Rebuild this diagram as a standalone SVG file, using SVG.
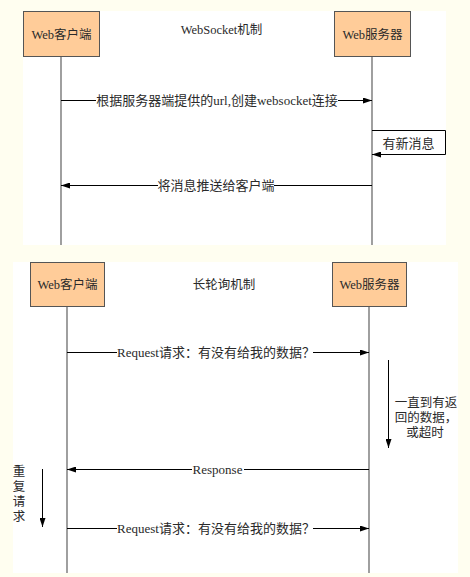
<svg xmlns="http://www.w3.org/2000/svg" width="470" height="577" viewBox="0 0 470 577">
<defs>
<marker id="ah" markerWidth="9" markerHeight="6" refX="9" refY="3" orient="auto" markerUnits="userSpaceOnUse">
<path d="M0,0 L9,3 L0,6 z" fill="#000"/>
</marker>
<style>
.bg{fill:#FFFEF0}
.panel{fill:#fff}
.box{fill:#FFCC99;stroke:#555;stroke-width:1}
.life{stroke:#888;stroke-width:1.6;fill:none}
.msg{stroke:#000;stroke-width:1;fill:none}
.t{font-family:"Liberation Serif","Noto Sans CJK SC",serif;font-size:12.5px;fill:#2a2a2a;text-anchor:middle}
.lb{fill:#fff}
</style>
</defs>
<rect class="bg" x="0" y="0" width="470" height="577"/>
<rect class="panel" x="23" y="11" width="423" height="234"/>
<rect class="panel" x="13" y="262" width="445" height="311"/>

<g id="lifelines">
<line class="life" x1="61" y1="57" x2="61" y2="245"/>
<line class="life" x1="372" y1="57" x2="372" y2="245"/>
<line class="life" x1="67" y1="307" x2="67" y2="573"/>
<line class="life" x1="369" y1="307" x2="369" y2="573"/>
</g>

<text class="t" x="221.5" y="33.5">WebSocket机制</text>
<text class="t" x="224" y="288.5">长轮询机制</text>

<g id="client1">
<rect class="box" x="23.5" y="11.5" width="76" height="45"/>
<text class="t" x="61.5" y="38.5">Web客户端</text>
</g>
<g id="server1">
<rect class="box" x="334.5" y="11.5" width="76" height="45"/>
<text class="t" x="372.5" y="38.5">Web服务器</text>
</g>
<g id="client2">
<rect class="box" x="30.5" y="262.5" width="74" height="44"/>
<text class="t" x="67.5" y="289">Web客户端</text>
</g>
<g id="server2">
<rect class="box" x="332.5" y="262.5" width="74" height="44"/>
<text class="t" x="369.5" y="289">Web服务器</text>
</g>

<g id="connectors">
<line class="msg" x1="61" y1="100.5" x2="372" y2="100.5" marker-end="url(#ah)"/>
<rect class="lb" x="96" y="93" width="242" height="15"/>
<text class="t" x="217" y="104.5" style="font-size:13px">根据服务器端提供的url,创建websocket连接</text>

<path class="msg" d="M372,130.5 H445.5 V154.5 H372" marker-end="url(#ah)"/>
<text class="t" x="408.5" y="147.5" style="font-size:13px">有新消息</text>

<line class="msg" x1="372" y1="185.5" x2="61" y2="185.5" marker-end="url(#ah)"/>
<rect class="lb" x="158" y="178" width="116" height="15"/>
<text class="t" x="216" y="190" style="font-size:13px">将消息推送给客户端</text>

<line class="msg" x1="67" y1="352.5" x2="369" y2="352.5" marker-end="url(#ah)"/>
<rect class="lb" x="117" y="345" width="196" height="15"/>
<text class="t" x="216" y="357" style="font-size:13px">Request请求：有没有给我的数据？</text>

<line class="msg" x1="388.5" y1="360" x2="388.5" y2="448" marker-end="url(#ah)"/>
<text class="t" x="426" y="406.5">一直到有返</text>
<text class="t" x="426" y="421.5">回的数据，</text>
<text class="t" x="425" y="436.5">或超时</text>

<line class="msg" x1="369" y1="469.5" x2="67" y2="469.5" marker-end="url(#ah)"/>
<rect class="lb" x="192" y="462" width="52" height="15"/>
<text class="t" x="217.5" y="474" style="font-size:13px">Response</text>

<line class="msg" x1="42.5" y1="469" x2="42.5" y2="527" marker-end="url(#ah)"/>
<text class="t" x="19" y="475.5">重</text>
<text class="t" x="19" y="490.5">复</text>
<text class="t" x="19" y="505.5">请</text>
<text class="t" x="19" y="520.5">求</text>

<line class="msg" x1="67" y1="528.5" x2="369" y2="528.5" marker-end="url(#ah)"/>
<rect class="lb" x="117" y="521" width="196" height="15"/>
<text class="t" x="216" y="533" style="font-size:13px">Request请求：有没有给我的数据？</text>
</g>
</svg>
